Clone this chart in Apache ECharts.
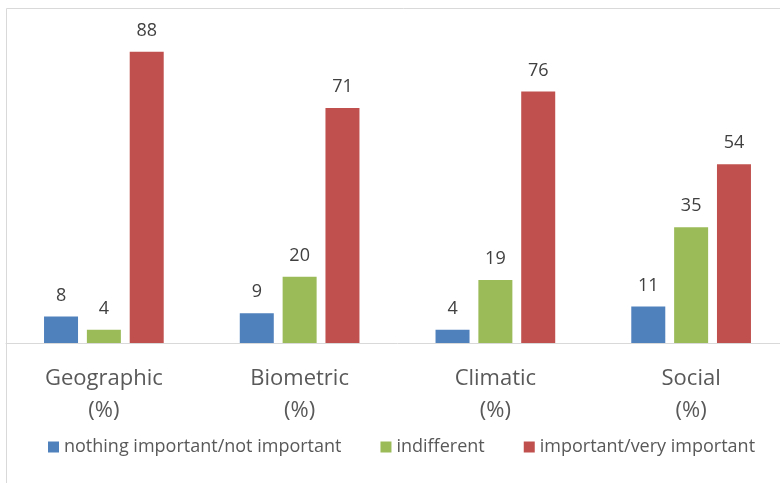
<!DOCTYPE html>
<html>
<head>
<meta charset="utf-8">
<script src="https://cdn.jsdelivr.net/npm/echarts@6/dist/echarts.min.js"></script>
<style>html,body{margin:0;padding:0;background:#fff;overflow:hidden;width:780px;height:483px;}#c{width:800px;height:483px;}</style>
</head>
<body>
<div id="c"></div>
<script>
const categories = ['Geographic\n(%)', 'Biometric\n(%)', 'Climatic\n(%)', 'Social\n(%)'];
const seriesNames = ['nothing important/not important', 'indifferent', 'important/very important'];
const notImportant = [8, 9, 4, 11];
const indifferent = [4, 20, 19, 35];
const important = [88, 71, 76, 54];
const colors = ['#4F81BD', '#9BBB59', '#C0504D'];

const font = '"Open Sans", "Liberation Sans", sans-serif';
const chart = echarts.init(document.getElementById('c'), null, {renderer: 'canvas'});
const values = [notImportant, indifferent, important];
chart.setOption({
  animation: false,
  textStyle: {fontFamily: font},
  graphic: [{
    type: 'rect', silent: true, z: -1,
    shape: {x: 6.5, y: 8.5, width: 900, height: 600},
    style: {fill: 'none', stroke: '#d9d9d9', lineWidth: 1}
  }],
  legend: {
    left: 43, top: 433,
    itemWidth: 11, itemHeight: 11, itemGap: 39,
    icon: 'rect',
    textStyle: {fontFamily: font, fontSize: 18, color: '#595959'},
    data: seriesNames
  },
  grid: {left: 6, top: 12, width: 783, height: 331, containLabel: false},
  xAxis: {
    type: 'category', data: categories,
    axisLine: {lineStyle: {color: '#d9d9d9', width: 1}},
    axisTick: {show: false},
    axisLabel: {fontFamily: font, fontSize: 22, color: '#595959', lineHeight: 32, margin: 20}
  },
  yAxis: {type: 'value', min: 0, max: 100, show: false, splitLine: {show: false}},
  series: seriesNames.map((n, i) => ({
    name: n, type: 'bar', data: values[i],
    barWidth: 34, barGap: '26%',
    itemStyle: {color: colors[i]},
    label: {show: true, position: 'top', distance: 12, fontFamily: font, fontSize: 18, color: '#404040'}
  }))
});
</script>
</body>
</html>
